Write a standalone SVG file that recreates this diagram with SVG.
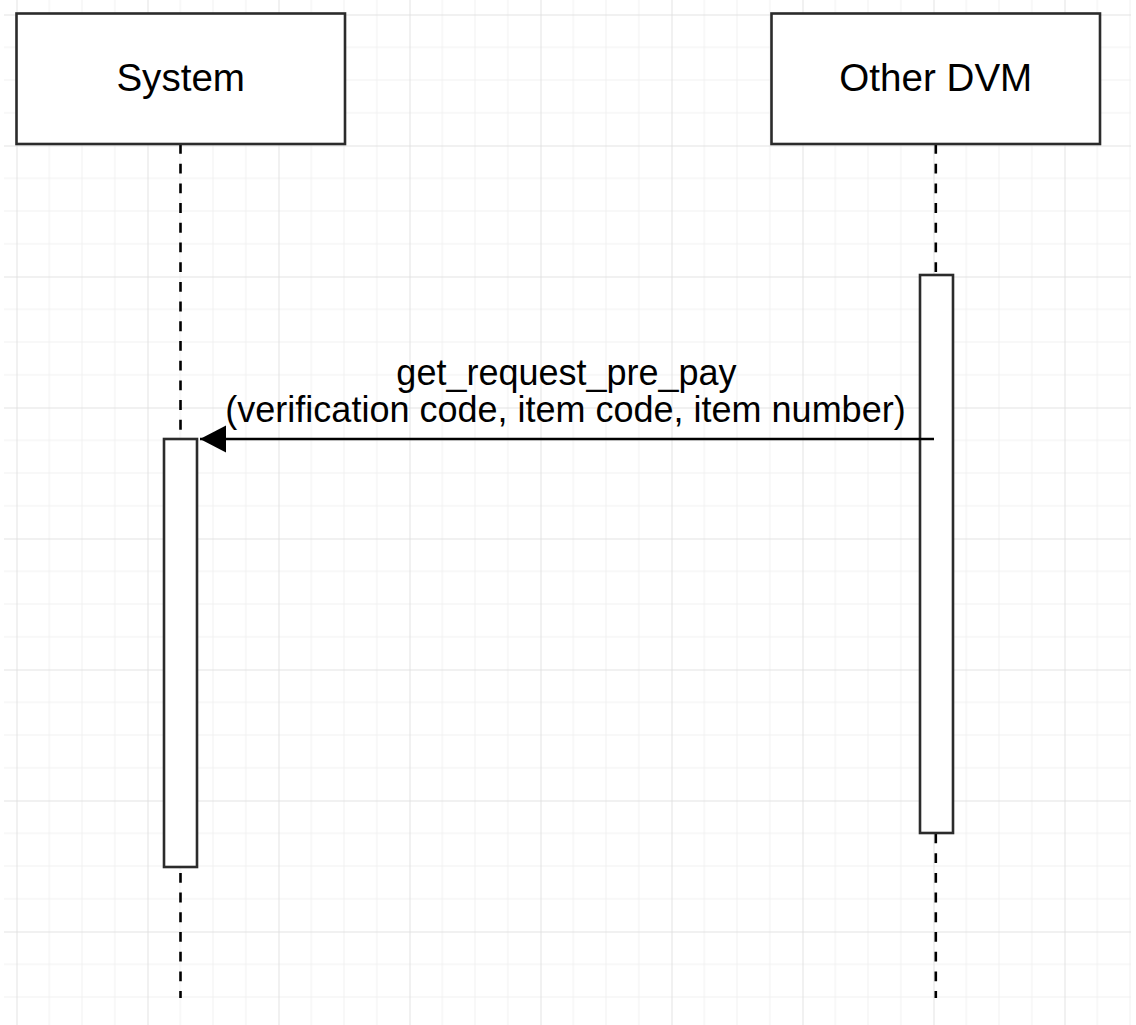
<svg xmlns="http://www.w3.org/2000/svg" width="1136" height="1025" viewBox="0 0 1136 1025">
  <style>
    .box { fill: #ffffff; stroke: #2b2b2b; stroke-width: 2.6; }
    .act { fill: #ffffff; stroke: #2b2b2b; stroke-width: 2.6; }
    .life { stroke: #000000; stroke-width: 2.6; stroke-dasharray: 9.85 9.85; fill: none; }
    .title { font-family: "Liberation Sans", Arial, sans-serif; font-size: 38.6px; fill: #000000; text-anchor: middle; }
    .label { font-family: "Liberation Sans", Arial, sans-serif; font-size: 36px; fill: #000000; text-anchor: middle; }
    .msg { stroke: #000000; stroke-width: 2.6; fill: none; }
    .minor { stroke: #f0f0f0; stroke-width: 1; }
    .major { stroke: #e2e2e2; stroke-width: 1; }
  </style>
  <defs>
    <pattern id="grid" patternUnits="userSpaceOnUse" x="16.5" y="14.5" width="131" height="131">
      <line class="minor" x1="32.75" y1="0" x2="32.75" y2="131"/>
      <line class="minor" x1="65.5" y1="0" x2="65.5" y2="131"/>
      <line class="minor" x1="98.25" y1="0" x2="98.25" y2="131"/>
      <line class="minor" x1="0" y1="32.75" x2="131" y2="32.75"/>
      <line class="minor" x1="0" y1="65.5" x2="131" y2="65.5"/>
      <line class="minor" x1="0" y1="98.25" x2="131" y2="98.25"/>
      <line class="major" x1="0.5" y1="0" x2="0.5" y2="131"/>
      <line class="major" x1="0" y1="0.5" x2="131" y2="0.5"/>
    </pattern>
    <marker id="arrow" markerUnits="userSpaceOnUse" markerWidth="28" markerHeight="28" refX="26" refY="13.5" orient="auto">
      <path d="M0,0 L26,13.5 L0,27 Z" fill="#000000"/>
    </marker>
  </defs>
  <rect x="0" y="0" width="1136" height="1025" fill="#ffffff"/>
  <rect x="4" y="0" width="1127" height="1025" fill="url(#grid)"/>

  <g id="node-system">
    <line class="life" x1="180.5" y1="144" x2="180.5" y2="998"/>
    <rect class="box" x="16.5" y="13.5" width="328.5" height="130.5"/>
    <text class="title" x="180.7" y="91">System</text>
    <rect class="act" x="164" y="439" width="33" height="428"/>
  </g>

  <g id="node-other-dvm">
    <line class="life" x1="935.8" y1="144" x2="935.8" y2="998"/>
    <rect class="box" x="771.5" y="13.5" width="328.5" height="130.5"/>
    <text class="title" x="935.8" y="91">Other DVM</text>
    <rect class="act" x="920" y="275" width="33" height="558"/>
  </g>

  <g id="connectors">
    <line class="msg" x1="934" y1="439" x2="200" y2="439" marker-end="url(#arrow)"/>
    <text class="label" x="566.5" y="385">get_request_pre_pay</text>
    <text class="label" x="565.5" y="422">(verification code, item code, item number)</text>
  </g>
</svg>
